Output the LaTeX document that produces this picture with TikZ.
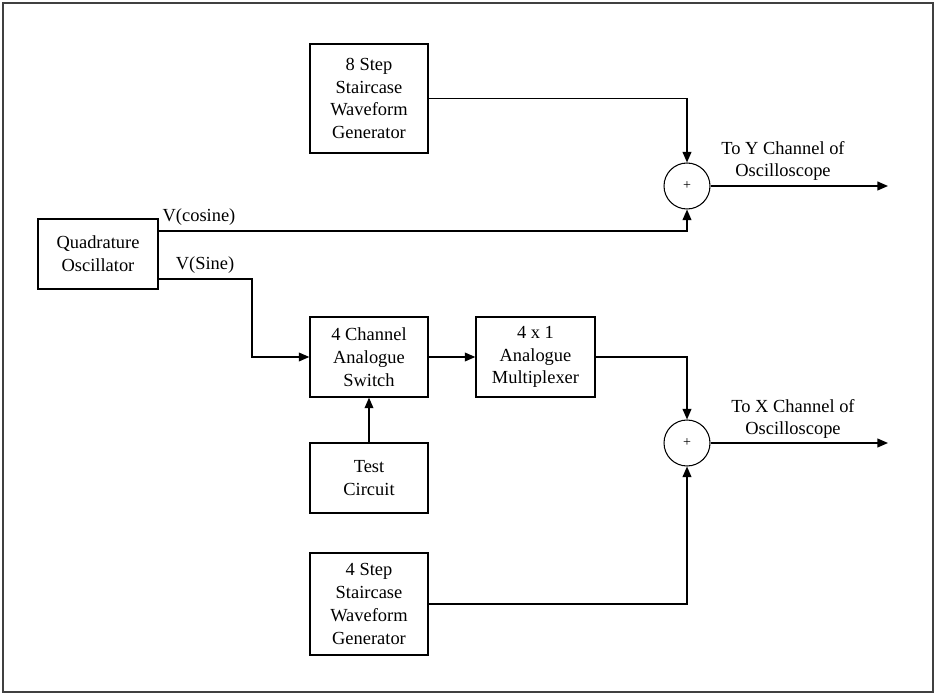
\documentclass[tikz,border=0pt]{standalone}
\usepackage{fontspec}
\setmainfont{Liberation Serif}
\usetikzlibrary{arrows.meta}

\tikzset{
  blk/.style={draw, line width=0.8pt, align=center, inner sep=1pt,
              font=\fontsize{10.5}{13}\selectfont},
  sumnode/.style={draw, circle, line width=0.6pt, minimum size=0.92cm,
                  inner sep=0pt, font=\footnotesize},
  sig/.style={line width=0.8pt, -{Triangle[length=6pt,width=5pt]}},
  lbl/.style={align=center, font=\fontsize{10.5}{13}\selectfont}
}

\begin{document}
\begin{tikzpicture}[x=0.02cm, y=-0.02cm]

\useasboundingbox (0,0) rectangle (936,695);

% Frame
\draw[black!75, line width=1pt] (3,3) rectangle (933,692);

% ---- Blocks ----
\node[blk, minimum width=2.36cm, minimum height=2.18cm] (gen8) at (369,98.5)
  {8 Step\\Staircase\\Waveform\\Generator};
\node[blk, minimum width=2.4cm, minimum height=1.4cm] (quad) at (98,254)
  {Quadrature\\Oscillator};
\node[blk, minimum width=2.36cm, minimum height=1.6cm] (switch) at (369,357)
  {4 Channel\\Analogue\\Switch};
\node[blk, minimum width=2.38cm, minimum height=1.6cm] (mux) at (535.5,357)
  {4 x 1\\Analogue\\Multiplexer};
\node[blk, minimum width=2.36cm, minimum height=1.4cm] (test) at (369,478)
  {Test\\Circuit};
\node[blk, minimum width=2.36cm, minimum height=2.04cm] (gen4) at (369,604)
  {4 Step\\Staircase\\Waveform\\Generator};

% ---- Summing points ----
\node[sumnode] (sumY) at (687,186) {+};
\node[sumnode] (sumX) at (687,443) {+};

% ---- Helper points ----
\coordinate (cosL) at (158,231);
\coordinate (sinL) at (158,279);
\coordinate (sinB) at (252,279);
\coordinate (outY) at (888,186);
\coordinate (outX) at (888,443);

% ---- Connections ----
\draw[sig] (gen8.east) -| (sumY.north);
\draw[sig] (cosL) -| (sumY.south);
\draw[sig] (sinL) -- (sinB) |- (switch.west);
\draw[sig] (switch) -- (mux);
\draw[sig] (test) -- (switch);
\draw[sig] (mux.east) -| (sumX.north);
\draw[sig] (gen4.east) -| (sumX.south);
\draw[sig] (sumY) -- (outY);
\draw[sig] (sumX) -- (outX);

% ---- Labels ----
\node[lbl] (lcos) at (199,217) {V(cosine)};
\node[lbl] (lsin) at (205,265) {V(Sine)};
\node[lbl] (lY) at (783,161) {To Y Channel of\\Oscilloscope};
\node[lbl] (lX) at (793,419) {To X Channel of\\Oscilloscope};

\end{tikzpicture}
\end{document}
